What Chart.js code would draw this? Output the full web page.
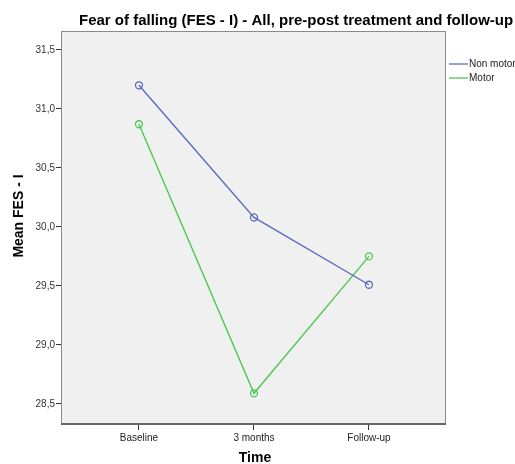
<!DOCTYPE html>
<html>
<head>
<meta charset="utf-8">
<script src="https://cdn.jsdelivr.net/npm/chart.js@4/dist/chart.umd.min.js"></script>
<style>
  html, body { margin: 0; padding: 0; background: #fff; }
  #wrap { width: 515px; height: 464px; }
</style>
</head>
<body>
<div id="wrap"><canvas id="fesChart" width="515" height="464"></canvas></div>
<script>
// chart data
const timeLabels = ['Baseline', '3 months', 'Follow-up'];
const nonMotor = [31.20, 30.08, 29.51];
const motor = [30.87, 28.59, 29.75];
const yTicks = [28.5, 29.0, 29.5, 30.0, 30.5, 31.0, 31.5];
const seriesNames = ['Non motor', 'Motor'];

const chartTitle = 'Fear of falling (FES - I) - All, pre-post treatment and follow-up';
const yTitle = 'Mean FES - I';
const xTitle = 'Time';

const blue = '#5b6cbd';
const green = '#4fc853';
const font = '"Liberation Sans", Arial, sans-serif';

function toPoints(values) {
    return values.map((v, i) => ({ x: i, y: v }));
}

// grey plot background + frame, like the SPSS output
const plotFrame = {
    id: 'plotFrame',
    beforeDraw(chart) {
        const { ctx, chartArea: a } = chart;
        ctx.save();
        ctx.fillStyle = '#f0f0f0';
        ctx.fillRect(a.left, a.top, a.right - a.left, a.bottom - a.top);
        ctx.restore();
    },
    afterDraw(chart) {
        const { ctx, chartArea: a } = chart;
        ctx.save();
        ctx.strokeStyle = '#8a8a8a';
        ctx.lineWidth = 1;
        ctx.strokeRect(a.left + 0.5, a.top + 0.5, a.right - a.left - 1, a.bottom - a.top);
        // bottom edge is a bit heavier in the original
        ctx.strokeStyle = '#666';
        ctx.lineWidth = 2;
        ctx.beginPath();
        ctx.moveTo(a.left, a.bottom);
        ctx.lineTo(a.right, a.bottom);
        ctx.stroke();

        // titles
        ctx.fillStyle = '#000';
        ctx.font = 'bold 15px ' + font;
        ctx.textAlign = 'left';
        ctx.textBaseline = 'alphabetic';
        ctx.fillText(chartTitle, 79, 25);

        ctx.font = 'bold 14px ' + font;
        ctx.textAlign = 'center';
        ctx.textBaseline = 'middle';
        ctx.fillText(xTitle, 255, 458);

        ctx.translate(19, 216);
        ctx.rotate(-Math.PI / 2);
        ctx.fillText(yTitle, 0, 0);
        ctx.restore();

        // legend at the right of the plot
        ctx.save();
        ctx.font = '10px ' + font;
        ctx.textAlign = 'left';
        ctx.textBaseline = 'middle';
        chart.data.datasets.forEach((ds, i) => {
            const y = 64 + i * 14;
            ctx.strokeStyle = ds.borderColor;
            ctx.lineWidth = 1.3;
            ctx.beginPath();
            ctx.moveTo(449, y);
            ctx.lineTo(468, y);
            ctx.stroke();
            ctx.fillStyle = '#222';
            ctx.fillText(ds.label, 469, y);
        });
        ctx.restore();
    }
};

new Chart(document.getElementById('fesChart'), {
    type: 'line',
    data: {
        datasets: [{
            label: seriesNames[0],
            data: toPoints(nonMotor),
            borderColor: blue,
            borderWidth: 1.4,
            pointRadius: 3.5,
            pointBorderWidth: 1.3,
            pointBackgroundColor: 'rgba(0,0,0,0)',
            pointBorderColor: blue,
            fill: false
        }, {
            label: seriesNames[1],
            data: toPoints(motor),
            borderColor: green,
            borderWidth: 1.4,
            pointRadius: 3.5,
            pointBorderWidth: 1.3,
            pointBackgroundColor: 'rgba(0,0,0,0)',
            pointBorderColor: green,
            fill: false
        }]
    },
    options: {
        responsive: false,
        animation: false,
        layout: { padding: { top: 31, right: 69, left: 0, bottom: 0 } },
        plugins: {
            legend: { display: false },
            title: { display: false },
            tooltip: { enabled: false }
        },
        scales: {
            x: {
                type: 'linear',
                min: -0.678,
                max: 2.67,
                afterBuildTicks: (scale) => {
                    scale.ticks = timeLabels.map((t, i) => ({ value: i }));
                },
                afterFit: (scale) => { scale.height = 40; },
                grid: { drawOnChartArea: false, tickLength: 6, tickColor: '#333' },
                border: { display: false },
                ticks: {
                    padding: 2,
                    color: '#222',
                    font: { family: font, size: 10 },
                    maxRotation: 0,
                    callback: (v) => timeLabels[v]
                }
            },
            y: {
                min: 28.33,
                max: 31.66,
                afterBuildTicks: (scale) => {
                    scale.ticks = yTicks.map(v => ({ value: v }));
                },
                afterFit: (scale) => { scale.width = 61; },
                grid: { drawOnChartArea: false, tickLength: 5, tickColor: '#333' },
                border: { display: false },
                ticks: {
                    padding: 1,
                    color: '#333',
                    font: { family: font, size: 10 },
                    callback: (v) => v.toFixed(1).replace('.', ',')
                }
            }
        }
    },
    plugins: [plotFrame]
});
</script>
</body>
</html>
